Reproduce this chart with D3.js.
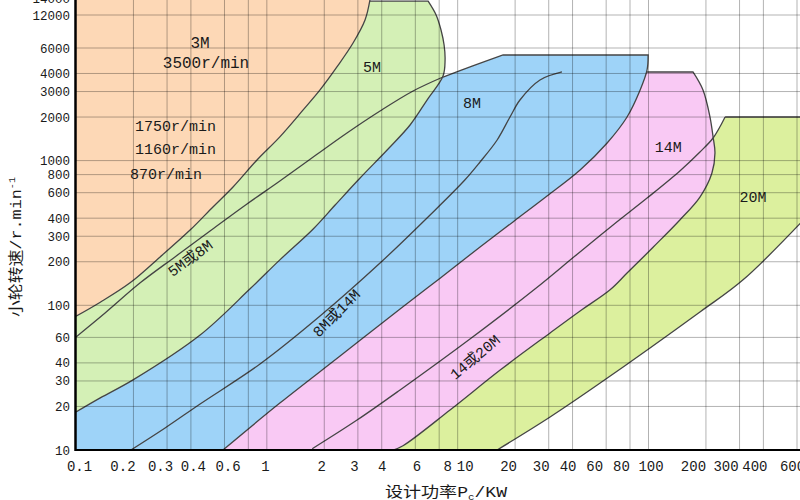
<!DOCTYPE html>
<html>
<head>
<meta charset="utf-8">
<script src="https://cdn.jsdelivr.net/npm/d3@7"></script>
<style>
  body { margin: 0; background: #fff; }
  text { font-family: "Liberation Mono", "Noto Sans CJK SC", monospace; fill: #1a1a1a; }
</style>
</head>
<body>
<svg width="800" height="500"></svg>
<script>
const svg = d3.select("svg");

// axis ticks
const xTicks = [0.1, 0.2, 0.3, 0.4, 0.6, 1, 2, 3, 4, 6, 8, 10, 20, 30, 40, 60, 80, 100, 200, 300, 400, 600];
const xGrid = [0.2, 0.3, 0.4, 0.6, 0.8, 1, 2, 3, 4, 6, 8, 10, 20, 30, 40, 60, 80, 100, 200, 300, 400, 600];
const yTicks = [10, 20, 30, 40, 60, 100, 200, 300, 400, 600, 800, 1000, 2000, 3000, 4000, 6000, 12000, 14000];
// the printed x labels do not sit exactly on their grid lines (px shift per label)
const xLabelNudge = [3, -11, -7, 2, 3, -2, -3, -4, 0, 1, 8, 7, -7, -8, -5, -12, -9, 2, -13, -14, -9, -5];

// region boundaries, [kW, r/min]
const edge3M = [[3.47, 13750], [3.27, 10800], [2.83, 6660], [2.33, 4440], [1.90, 3080], [1.55, 2240], [1.17, 1460],
  [0.888, 1010], [0.665, 657], [0.522, 478], [0.396, 331], [0.276, 216], [0.192, 143], [0.134, 105], [0.1, 84]];
const top5M = [[3.47, 13600], [7.0, 13600]];
const edge5M = [[7.0, 13600], [7.71, 12000], [8.18, 8760], [8.49, 6390], [8.59, 4960], [8.38, 3840], [6.91, 2620],
  [5.63, 1762], [4.27, 1184], [3.08, 758], [2.28, 493], [1.75, 337], [1.17, 206], [0.817, 130], [0.447, 62.3],
  [0.199, 30.5], [0.134, 22.9], [0.1, 18.3]];
const split5M8M = [[0.1, 60.4], [0.142, 88.5], [0.217, 143], [0.330, 216], [0.504, 326], [0.787, 501], [1.17, 723],
  [1.75, 1059], [2.63, 1552], [3.92, 2202], [5.84, 3027], [8.38, 3781]];
const top8M = [[8.38, 3781], [12.0, 4507], [17.3, 5369]];
const edge8M = [[99.5, 5369], [98.3, 4229], [90.4, 3075], [77.2, 2001], [60.7, 1323], [43.8, 861], [29.4, 569],
  [19.5, 377], [13.1, 253], [8.09, 154], [4.99, 94.3], [2.42, 44.6], [1.17, 21.1], [0.589, 10]];
const split8M14M = [[0.194, 10], [0.293, 14.2], [0.447, 20.8], [0.921, 39.3], [1.90, 84.3], [3.92, 196], [7.17, 421],
  [10.9, 734], [13.1, 978], [16.1, 1388], [18.8, 2001], [21.2, 2623], [27.0, 3606], [35.2, 4097]];
const top14M = [[35.2, 4097], [171, 4097]];
const edge14M = [[171, 4097], [193, 3075], [210, 2001], [218, 1456], [223, 1129], [215, 821], [186, 560], [146, 389],
  [106, 253], [77.2, 167], [62.9, 128], [43.8, 91.3], [30.5, 64.4], [16.7, 35.7], [9.12, 18.9], [5.17, 10.7], [4.59, 10]];
const split14M20M = [[1.73, 10.2], [2.97, 16.1], [4.99, 26.0], [11.6, 58.5], [25.5, 130], [41.2, 219], [65.2, 359],
  [98.3, 551], [146, 848], [186, 1147], [218, 1433], [252, 2001]];
const top20M = [[252, 2001], [703, 2001], [703, 434]];
const edge20M = [[703, 434], [313, 150], [186, 89.9], [55.8, 29.0], [30.5, 16.9], [16.1, 10]];

// text notes inside the chart
const notes = [
  { text: "3M", kW: 0.447, rpm: 6800, angle: 0, cls: "big" },
  { text: "3500r/min", kW: 0.48, rpm: 4800, angle: 0, cls: "big" },
  { text: "1750r/min", kW: 0.204, rpm: 1735, angle: 0, cls: "left" },
  { text: "1160r/min", kW: 0.204, rpm: 1203, angle: 0, cls: "left" },
  { text: "870r/min", kW: 0.192, rpm: 808, angle: 0, cls: "left" },
  { text: "5M", kW: 3.56, rpm: 4436, angle: 0, cls: "mid" },
  { text: "8M", kW: 11.9, rpm: 2501, angle: 0, cls: "mid" },
  { text: "14M", kW: 127, rpm: 1242, angle: 0, cls: "mid" },
  { text: "20M", kW: 353, rpm: 560, angle: 0, cls: "mid" },
  { text: "5M或8M", kW: 0.396, rpm: 212, angle: -36, cls: "mid" },
  { text: "8M或14M", kW: 2.31, rpm: 88.5, angle: -45, cls: "mid" },
  { text: "14或20M", kW: 12.3, rpm: 43.9, angle: -40, cls: "mid" }
];

const x = d3.scaleLog().domain([0.1, 600]).range([76, 797]);
const y = d3.scaleLog().domain([10, 6000, 12000, 14000]).range([450, 48, 15, -2]);

const line = d3.line()
  .x(d => x(d[0]))
  .y(d => y(d[1]))
  .curve(d3.curveCatmullRom.alpha(0.5));
const chain = parts => parts.map((p, i) => i ? line(p).replace(/^M/, "L") : line(p)).join("");

svg.append("clipPath").attr("id", "plot")
  .append("rect").attr("x", 76).attr("y", 0).attr("width", 724).attr("height", 450);
const g = svg.append("g").attr("clip-path", "url(#plot)");

function region(parts, color) {
  g.append("path").attr("d", chain(parts) + "Z").attr("fill", color);
}
function edge(...parts) {
  g.append("path").attr("d", chain(parts))
    .attr("fill", "none").attr("stroke", "#454545").attr("stroke-width", 1.3);
}

region([split14M20M, top20M.slice(1), edge20M], "#dcf09e");
region([split8M14M, edge14M], "#f9c9f4");
edge(top20M.slice(0, 2));
edge(edge20M);
edge(split14M20M);
edge(top14M, edge14M);

region([[[0.1, 10], [0.1, 60.4]], split5M8M, top8M, edge8M], "#9ed3f8");
edge(split8M14M);
edge(top8M, edge8M);

region([[[0.1, 13600], [7.0, 13600]], edge5M], "#d4f0b6");
edge(split5M8M);
edge(top5M, edge5M);

region([[[0.1, 20000], [3.47, 20000]], edge3M], "#fdd8b6");
edge(edge3M);

// grid
g.append("g").selectAll("line").data(xGrid).join("line")
  .attr("x1", d => x(d)).attr("x2", d => x(d)).attr("y1", 0).attr("y2", 450)
  .attr("stroke", "#000").attr("stroke-opacity", 0.3);
g.append("g").selectAll("line").data(yTicks.slice(1)).join("line")
  .attr("x1", 76).attr("x2", 800).attr("y1", d => y(d)).attr("y2", d => y(d))
  .attr("stroke", "#000").attr("stroke-opacity", 0.3);

// notes
svg.append("g").selectAll("text").data(notes).join("text")
  .attr("transform", d => `translate(${x(d.kW)},${y(d.rpm)}) rotate(${d.angle})`)
  .attr("dy", "0.35em")
  .attr("text-anchor", d => d.cls === "left" ? "start" : "middle")
  .attr("font-size", d => d.cls === "big" ? 16 : 15)
  .text(d => d.text);

// axes
const xAxis = svg.append("g").attr("transform", "translate(0,450)")
  .call(d3.axisBottom(x).tickValues(xTicks).tickFormat(d => d).tickSize(0).tickPadding(11));
xAxis.select(".domain").remove();
xAxis.selectAll("text")
  .attr("font-size", 14).attr("font-family", null)
  .attr("dx", (d, i) => xLabelNudge[i]);

const yAxis = svg.append("g").attr("transform", "translate(76,0)")
  .call(d3.axisLeft(y).tickValues(yTicks).tickFormat(d3.format("d")).tickSize(0).tickPadding(6));
yAxis.select(".domain").remove();
yAxis.selectAll("text").attr("font-size", 12.5).attr("font-family", null);

svg.append("line").attr("x1", 75).attr("x2", 800).attr("y1", 450).attr("y2", 450)
  .attr("stroke", "#000").attr("stroke-width", 2);
svg.append("line").attr("x1", 75.5).attr("x2", 75.5).attr("y1", 0).attr("y2", 451)
  .attr("stroke", "#000").attr("stroke-width", 2.5);

// axis titles
const xTitle = svg.append("text").attr("x", 385).attr("y", 497)
  .attr("font-size", 15).attr("textLength", 122).attr("lengthAdjust", "spacingAndGlyphs");
xTitle.append("tspan").text("设计功率P");
xTitle.append("tspan").attr("font-size", 9).attr("dy", 3).text("c");
xTitle.append("tspan").attr("dy", -3).text("/KW");

const yTitle = svg.append("text").attr("transform", "translate(21,247) rotate(-90)")
  .attr("text-anchor", "middle").attr("font-size", 15)
  .attr("textLength", 140).attr("lengthAdjust", "spacingAndGlyphs");
yTitle.append("tspan").text("小轮转速/r.min");
yTitle.append("tspan").attr("font-size", 9).attr("dy", -6).text("-1");
</script>
</body>
</html>
